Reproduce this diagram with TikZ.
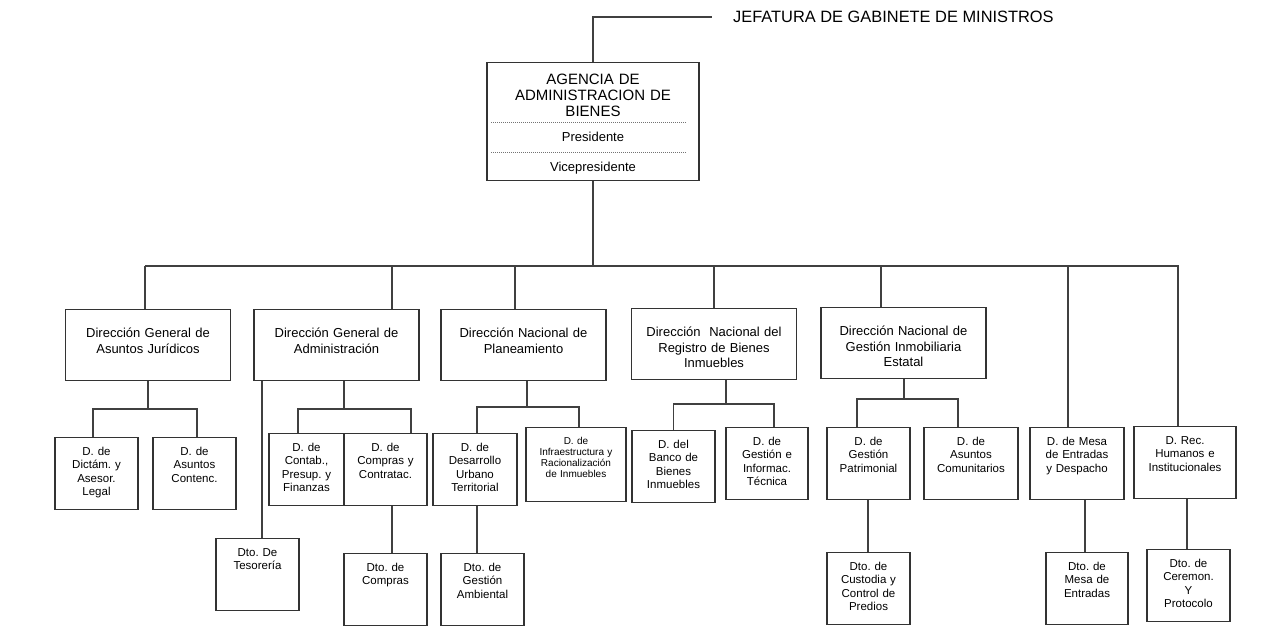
\documentclass[tikz,border=0pt]{standalone}
\usepackage{fontspec}
\setmainfont{Liberation Sans}
\usepackage{tikz}
\usetikzlibrary{positioning}
\frenchspacing
\tikzset{
  agencyBox/.style={
    draw=black!80,
    line width=1.2pt,
    anchor=north,
    inner sep=0pt,
    text width=212pt,
    text height=22.4pt,
    text depth=95.6pt,
    align=center,
    font=\fontsize{15}{16}\selectfont
  },
  roleText/.style={
    inner sep=0pt,
    anchor=base,
    font=\fontsize{13}{15}\selectfont
  },
  headText/.style={
    inner sep=0pt,
    anchor=west,
    font=\fontsize{16.4}{18}\selectfont
  },
  direccionBox/.style={
    draw=black!80,
    line width=1.2pt,
    anchor=north,
    inner sep=0pt,
    text width=165pt,
    text height=28pt,
    text depth=43pt,
    align=center,
    font=\fontsize{13}{15.5}\selectfont
  },
  unitBox/.style={
    draw=black!80,
    line width=1.2pt,
    anchor=north,
    inner sep=0pt,
    text width=#1,
    text height=18pt,
    text depth=53.5pt,
    align=center,
    font=\fontsize{11.5}{13.2}\selectfont
  },
  unitBox/.default=83pt,
  smallUnit/.style={
    unitBox=100pt,
    text height=17pt,
    text depth=57pt,
    font=\fontsize{10}{11}\selectfont
  },
  link/.style={
    draw=black!75,
    line width=1.3pt
  },
  sepLine/.style={
    draw=black!55,
    line width=0.6pt,
    dash pattern=on 1pt off 1pt
  }
}

\begin{document}
\begin{tikzpicture}[x=1pt,y=-1pt]
  \fill[white] (0,0) rectangle (1274,631);
  \useasboundingbox (0,0) rectangle (1274,631);

  % top
  \node[headText] (jefatura) at (733,17) {JEFATURA DE GABINETE DE MINISTROS};
  \node[agencyBox] (agency) at (593,62) {AGENCIA DE\\ADMINISTRACION DE\\BIENES};
  \node[roleText] (pres) at ([yshift=-79.7pt]agency.north) {Presidente};
  \node[roleText] (vice) at ([yshift=-109.7pt]agency.north) {Vicepresidente};
  \draw[sepLine] ([xshift=5pt,yshift=-60pt]agency.north west) -- ([xshift=-13pt,yshift=-60pt]agency.north east);
  \draw[sepLine] ([xshift=5pt,yshift=-90pt]agency.north west) -- ([xshift=-13pt,yshift=-90pt]agency.north east);

  % direcciones
  \node[direccionBox] (dgaj) at (148,309) {Dirección General de\\Asuntos Jurídicos};
  \node[direccionBox] (dgadm) at (336.5,309) {Dirección General de\\Administración};
  \node[direccionBox] (dnplan) at (523.5,309) {Dirección Nacional de\\Planeamiento};
  \node[direccionBox] (dnreg) at (714,308) {Dirección\ \ Nacional del\\Registro de Bienes\\Inmuebles};
  \node[direccionBox] (dngest) at (903.5,307) {Dirección Nacional de\\Gestión Inmobiliaria\\Estatal};

  % units
  \node[unitBox] (dictam) at (96.5,437) {D. de\\Dictám. y\\Asesor.\\Legal};
  \node[unitBox] (contenc) at (194.5,437) {D. de\\Asuntos\\Contenc.};
  \node[unitBox=75pt] (contab) at (306.5,433) {D. de\\Contab.,\\Presup. y\\Finanzas};
  \node[unitBox] (compras) at (385.5,433) {D. de\\Compras y\\Contratac.};
  \node[unitBox] (tesoreria) at (257.5,538) {Dto. De\\Tesorería};
  \node[unitBox] (dtocompras) at (385.5,553) {Dto. de\\Compras};
  \node[unitBox=84pt] (desurb) at (475,433) {D. de\\Desarrollo\\Urbano\\Territorial};
  \node[smallUnit] (infra) at (576,427) {D. de\\Infraestructura y\\Racionalización\\de Inmuebles};
  \node[unitBox] (gestamb) at (482.5,553) {Dto. de\\Gestión\\Ambiental};
  \node[unitBox] (banco) at (673.5,430) {D. del\\Banco de\\Bienes\\Inmuebles};
  \node[unitBox=82pt] (gestinf) at (767,427) {D. de\\Gestión e\\Informac.\\Técnica};
  \node[unitBox] (gestpat) at (868.5,427) {D. de\\Gestión\\Patrimonial};
  \node[unitBox=94pt] (asuntcom) at (971,427) {D. de\\Asuntos\\Comunitarios};
  \node[unitBox] (custodia) at (868.5,552) {Dto. de\\Custodia y\\Control de\\Predios};
  \node[unitBox=94pt] (mesadesp) at (1077,427) {D. de Mesa\\de Entradas\\y Despacho};
  \node[unitBox=82pt] (dtomesa) at (1087,552) {Dto. de\\Mesa de\\Entradas};
  \node[unitBox=102pt] (rrhh) at (1185,426) {D. Rec.\\Humanos e\\Institucionales};
  \node[unitBox] (ceremon) at (1188.5,549) {Dto. de\\Ceremon.\\Y\\Protocolo};

  % main bus
  \coordinate (busL) at (145,266);
  \coordinate (busR) at (1178,266);
  \draw[link] (agency.north) |- ([xshift=-21pt]jefatura.west);
  \draw[link] (agency.south) -- (agency.south |- busL);
  \draw[link] (busL) -- (busR);
  \foreach \nd/\dx in {dgaj/-3,dgadm/55.5,dnplan/-8.5,dnreg/0,dngest/-22.5,mesadesp/-9,rrhh/-7}
    \draw[link] ([xshift=\dx pt]\nd.north) |- (busL);

  % juridicos
  \coordinate (jurJ) at (148,409);
  \draw[link] (dgaj.south) -- (jurJ);
  \draw[link] ([xshift=-3.5pt]dictam.north) |- (jurJ) -| ([xshift=2.5pt]contenc.north);

  % administracion
  \coordinate (admJ) at (344,409);
  \draw[link] ([xshift=7.5pt]dgadm.south) -- (admJ);
  \draw[link] ([xshift=-8.5pt]contab.north) |- (admJ) -| ([xshift=25.5pt]compras.north);
  \draw[link] ([xshift=-74.5pt]dgadm.south) -- ([xshift=4.5pt]tesoreria.north);
  \draw[link] ([xshift=6.5pt]compras.south) -- ([xshift=6.5pt]dtocompras.north);

  % planeamiento
  \coordinate (planJ) at (527,407);
  \draw[link] ([xshift=3.5pt]dnplan.south) -- (planJ);
  \draw[link] ([xshift=2pt]desurb.north) |- (planJ) -| ([xshift=3pt]infra.north);
  \draw[link] ([xshift=2pt]desurb.south) -- ([xshift=-5.5pt]gestamb.north);

  % registro
  \coordinate (regJ) at (726,404);
  \draw[link] ([xshift=12pt]dnreg.south) -- (regJ);
  \draw[link] (banco.north) |- (regJ) -| ([xshift=7pt]gestinf.north);

  % gestion inmobiliaria
  \coordinate (gestJ) at (904,399);
  \draw[link] ([xshift=0.5pt]dngest.south) -- (gestJ);
  \draw[link] ([xshift=-11.5pt]gestpat.north) |- (gestJ) -| ([xshift=-13pt]asuntcom.north);
  \draw[link] ([xshift=-0.5pt]gestpat.south) -- ([xshift=-0.5pt]custodia.north);

  % mesa y rrhh
  \draw[link] ([xshift=8pt]mesadesp.south) -- ([xshift=-2pt]dtomesa.north);
  \draw[link] ([xshift=2pt]rrhh.south) -- ([xshift=-1.5pt]ceremon.north);
\end{tikzpicture}
\end{document}
